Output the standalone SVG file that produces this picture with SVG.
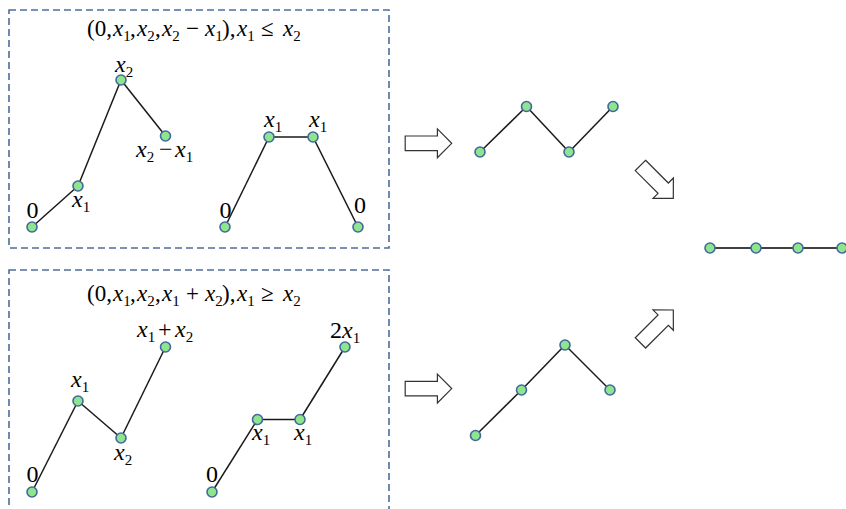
<svg xmlns="http://www.w3.org/2000/svg" width="846" height="509" viewBox="0 0 846 509">
<style>
.box{fill:none;stroke:#4d6d99;stroke-width:1.6;stroke-dasharray:7 4}
.n{fill:#8ee58e;stroke:#41699c;stroke-width:1.6}
.c line{stroke:#1a1a1a;stroke-width:1.5}
.m{font-family:"Liberation Serif","Times New Roman",serif;font-size:23px;fill:#000}
.l{font-family:"Liberation Serif","Times New Roman",serif;font-size:24px;fill:#000}
.i{font-style:italic}
.s{font-size:15px;font-style:normal}
.ar{fill:#fff;stroke:#333;stroke-width:1.2;stroke-linejoin:miter}
</style>
<defs>
<path id="arrow" d="M-46.5,-7.3 L-14.3,-7.3 L-14.3,-14.4 L0,0 L-14.3,14.4 L-14.3,7.3 L-46.5,7.3 Z"/>
</defs>
<rect class="box" x="9" y="10" width="380" height="238"/>
<rect class="box" x="9" y="270" width="380" height="260"/>
<g id="title-top">
<text class="m" y="36"><tspan x="87">(0,</tspan><tspan x="113" class="i">x</tspan><tspan class="s" y="41">1</tspan><tspan x="130" y="36">,</tspan><tspan x="137" class="i">x</tspan><tspan class="s" y="41">2</tspan><tspan x="155" y="36">,</tspan><tspan x="162" class="i">x</tspan><tspan class="s" y="41">2</tspan><tspan x="186" y="36">−</tspan><tspan x="205" class="i">x</tspan><tspan class="s" y="41">1</tspan><tspan x="222" y="36">),</tspan><tspan x="237" class="i">x</tspan><tspan class="s" y="41">1</tspan><tspan x="261" y="36">≤</tspan><tspan x="283" class="i">x</tspan><tspan class="s" y="41">2</tspan></text>
</g>
<g id="title-bottom">
<text class="m" y="301"><tspan x="87">(0,</tspan><tspan x="113" class="i">x</tspan><tspan class="s" y="306">1</tspan><tspan x="130" y="301">,</tspan><tspan x="137" class="i">x</tspan><tspan class="s" y="306">2</tspan><tspan x="155" y="301">,</tspan><tspan x="162" class="i">x</tspan><tspan class="s" y="306">1</tspan><tspan x="186" y="301">+</tspan><tspan x="205" class="i">x</tspan><tspan class="s" y="306">2</tspan><tspan x="222" y="301">),</tspan><tspan x="237" class="i">x</tspan><tspan class="s" y="306">1</tspan><tspan x="261" y="301">≥</tspan><tspan x="283" class="i">x</tspan><tspan class="s" y="306">2</tspan></text>
</g>
<g id="connectors" class="c">
<line x1="32" y1="227" x2="78" y2="186"/><line x1="78" y1="186" x2="121" y2="80"/><line x1="121" y1="80" x2="165.5" y2="136"/>
<line x1="225" y1="227" x2="269" y2="137"/><line x1="269" y1="137" x2="313" y2="137"/><line x1="313" y1="137" x2="358" y2="227"/>
<line x1="480" y1="152" x2="526.5" y2="106.5"/><line x1="526.5" y1="106.5" x2="569" y2="152"/><line x1="569" y1="152" x2="613" y2="106.5"/>
<line x1="32" y1="492" x2="78" y2="401"/><line x1="78" y1="401" x2="121" y2="438"/><line x1="121" y1="438" x2="165.5" y2="347"/>
<line x1="212" y1="492" x2="257.5" y2="419.5"/><line x1="257.5" y1="419.5" x2="300" y2="419.5"/><line x1="300" y1="419.5" x2="345" y2="347"/>
<line x1="475.5" y1="435.5" x2="521.5" y2="390"/><line x1="521.5" y1="390" x2="565" y2="345"/><line x1="565" y1="345" x2="610" y2="390"/>
<line x1="710" y1="248" x2="756" y2="248" style="stroke:#404040;stroke-width:2"/><line x1="756" y1="248" x2="798" y2="248" style="stroke:#404040;stroke-width:2"/><line x1="798" y1="248" x2="842" y2="248" style="stroke:#404040;stroke-width:2"/>
</g>
<g id="arrows">
<use href="#arrow" class="ar" transform="translate(451.7,143.3)"/>
<use href="#arrow" class="ar" transform="translate(451.7,388.6)"/>
<use href="#arrow" class="ar" transform="translate(673.3,198.3) rotate(45)"/>
<use href="#arrow" class="ar" transform="translate(673.3,310) rotate(-45)"/>
</g>
<g id="tl-n0"><circle class="n" cx="32" cy="227" r="5"/><text class="l" x="32.5" y="218" text-anchor="middle">0</text></g>
<g id="tl-n1"><circle class="n" cx="78" cy="186" r="5"/><text class="l" y="207"><tspan x="72" class="i">x</tspan><tspan class="s" y="212">1</tspan></text></g>
<g id="tl-n2"><circle class="n" cx="121" cy="80" r="5"/><text class="l" y="72"><tspan x="115" class="i">x</tspan><tspan class="s" y="77">2</tspan></text></g>
<g id="tl-n3"><circle class="n" cx="165.5" cy="136" r="5"/><text class="l" y="157"><tspan x="136" class="i">x</tspan><tspan class="s" y="162">2</tspan><tspan x="159" y="157">−</tspan><tspan x="175" class="i">x</tspan><tspan class="s" y="162">1</tspan></text></g>
<g id="tr-n0"><circle class="n" cx="225" cy="227" r="5"/><text class="l" x="225.5" y="218" text-anchor="middle">0</text></g>
<g id="tr-n1"><circle class="n" cx="269" cy="137" r="5"/><text class="l" y="127"><tspan x="264" class="i">x</tspan><tspan class="s" y="132">1</tspan></text></g>
<g id="tr-n2"><circle class="n" cx="313" cy="137" r="5"/><text class="l" y="127"><tspan x="309" class="i">x</tspan><tspan class="s" y="132">1</tspan></text></g>
<g id="tr-n3"><circle class="n" cx="358" cy="227" r="5"/><text class="l" x="360" y="213" text-anchor="middle">0</text></g>
<g id="mt-n0"><circle class="n" cx="480" cy="152" r="5"/></g>
<g id="mt-n1"><circle class="n" cx="526.5" cy="106.5" r="5"/></g>
<g id="mt-n2"><circle class="n" cx="569" cy="152" r="5"/></g>
<g id="mt-n3"><circle class="n" cx="613" cy="106.5" r="5"/></g>
<g id="bl-n0"><circle class="n" cx="32" cy="492" r="5"/><text class="l" x="32.5" y="482" text-anchor="middle">0</text></g>
<g id="bl-n1"><circle class="n" cx="78" cy="401" r="5"/><text class="l" y="387"><tspan x="71" class="i">x</tspan><tspan class="s" y="392">1</tspan></text></g>
<g id="bl-n2"><circle class="n" cx="121" cy="438" r="5"/><text class="l" y="460"><tspan x="114" class="i">x</tspan><tspan class="s" y="465">2</tspan></text></g>
<g id="bl-n3"><circle class="n" cx="165.5" cy="347" r="5"/><text class="l" y="337"><tspan x="137" class="i">x</tspan><tspan class="s" y="342">1</tspan><tspan x="158" y="337">+</tspan><tspan x="175" class="i">x</tspan><tspan class="s" y="342">2</tspan></text></g>
<g id="br-n0"><circle class="n" cx="212" cy="492" r="5"/><text class="l" x="212" y="482" text-anchor="middle">0</text></g>
<g id="br-n1"><circle class="n" cx="257.5" cy="419.5" r="5"/><text class="l" y="440"><tspan x="252" class="i">x</tspan><tspan class="s" y="445">1</tspan></text></g>
<g id="br-n2"><circle class="n" cx="300" cy="419.5" r="5"/><text class="l" y="440"><tspan x="294" class="i">x</tspan><tspan class="s" y="445">1</tspan></text></g>
<g id="br-n3"><circle class="n" cx="345" cy="347" r="5"/><text class="l" y="338"><tspan x="330">2</tspan><tspan class="i">x</tspan><tspan class="s" y="343">1</tspan></text></g>
<g id="mb-n0"><circle class="n" cx="475.5" cy="435.5" r="5"/></g>
<g id="mb-n1"><circle class="n" cx="521.5" cy="390" r="5"/></g>
<g id="mb-n2"><circle class="n" cx="565" cy="345" r="5"/></g>
<g id="mb-n3"><circle class="n" cx="610" cy="390" r="5"/></g>
<g id="r-n0"><circle class="n" cx="710" cy="248" r="5"/></g>
<g id="r-n1"><circle class="n" cx="756" cy="248" r="5"/></g>
<g id="r-n2"><circle class="n" cx="798" cy="248" r="5"/></g>
<g id="r-n3"><circle class="n" cx="842" cy="248" r="5"/></g>
</svg>
